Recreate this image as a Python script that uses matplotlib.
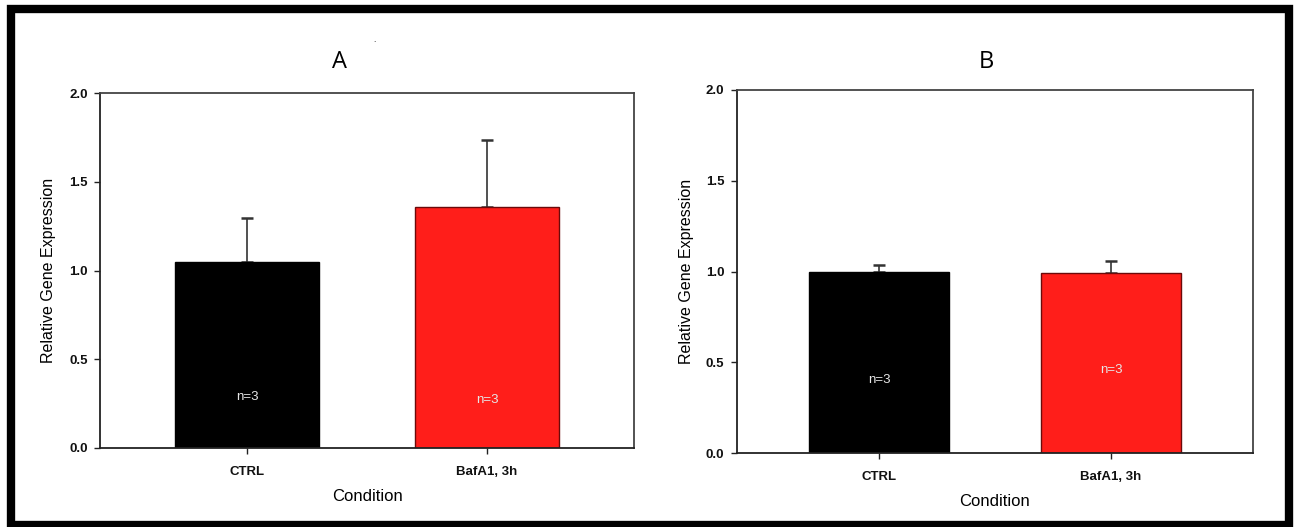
import matplotlib
matplotlib.use("Agg")
import matplotlib.pyplot as plt
from matplotlib.patches import Rectangle

conditions = ["CTRL", "BafA1, 3h"]
colors = ["#000000", "#ff1e1a"]

means_a = [1.05, 1.36]
err_a = [0.245, 0.375]
nlab_a = [0.29, 0.27]

means_b = [1.00, 0.99]
err_b = [0.035, 0.07]
nlab_b = [0.40, 0.46]

n_text = ["n=3", "n=3"]

plt.rcParams["font.family"] = ["Liberation Sans", "DejaVu Sans"]

W, H = 1294, 527
fig = plt.figure(figsize=(W / 100, H / 100), dpi=100)

# outer black frame
fig.patches.append(Rectangle((11 / W, 2 / H), 1277.5 / W, 516 / H,
                             transform=fig.transFigure, fill=False,
                             edgecolor="black", linewidth=6, zorder=10))


def panel(rect, means, errs, nlab):
    ax = fig.add_axes(rect)
    x = list(range(len(conditions)))
    ax.bar(x, means, width=0.6, color=colors, edgecolor=["#000000", "#6b0a0a"],
           linewidth=1.0, zorder=2)
    ax.errorbar(x, means, yerr=[[0, 0], errs], fmt="none", ecolor="#333333",
                elinewidth=1.2, capsize=4.3, capthick=1.8, zorder=1)
    for xi, yi, t in zip(x, nlab, n_text):
        ax.text(xi, yi, t, color="#e6e6e6", ha="center", va="center",
                fontsize=9.5, zorder=3)
    ax.set_xlim(-0.6125, 1.6125)
    ax.set_ylim(0, 2.0)
    ax.set_yticks([0.0, 0.5, 1.0, 1.5, 2.0])
    ax.set_yticklabels(["0.0", "0.5", "1.0", "1.5", "2.0"])
    ax.set_xticks(x)
    ax.set_xticklabels(conditions)
    ax.tick_params(axis="both", labelsize=9.5, length=4, width=1, direction="out",
                   colors="#222222", labelcolor="#111111", pad=5)
    for lab in ax.get_xticklabels() + ax.get_yticklabels():
        lab.set_fontweight("bold")
    ax.tick_params(axis="x", pad=9)
    ax.set_ylabel("Relative Gene Expression", fontsize=11.5, labelpad=9)
    ax.set_xlabel("Condition", fontsize=12, labelpad=8)
    for s in ["left", "bottom"]:
        ax.spines[s].set_color("#222222")
        ax.spines[s].set_linewidth(1.3)
    for s in ["top", "right"]:
        ax.spines[s].set_color("#444444")
        ax.spines[s].set_linewidth(1.3)
    return ax


ax_a = panel([100 / W, 79 / H, 534 / W, 355 / H], means_a, err_a, nlab_a)
ax_b = panel([737 / W, 74 / H, 516 / W, 363 / H], means_b, err_b, nlab_b)

# panel letters
fig.text(339 / W, 1 - 62 / H, "A", fontsize=17, family="Open Sans",
         ha="center", va="center")
fig.text(986 / W, 1 - 62 / H, "B", fontsize=17, family="Open Sans",
         ha="center", va="center")
fig.text(374 / W, 1 - 41 / H, ".", fontsize=6, ha="center", va="center")

fig.savefig("out.png", dpi=100)
